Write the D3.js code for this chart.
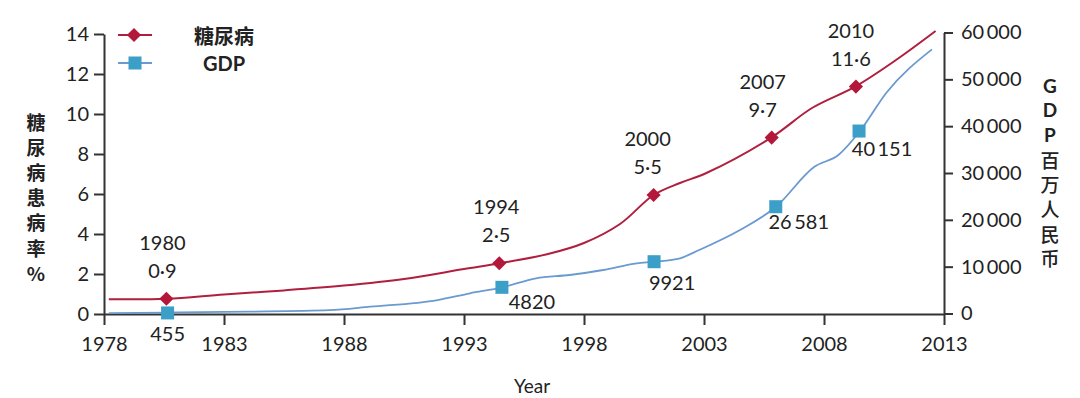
<!DOCTYPE html>
<html>
<head>
<meta charset="utf-8">
<script src="https://cdn.jsdelivr.net/npm/d3@7"></script>
<style>
  body { margin: 0; background: #fff; }
  text { font-family: Lato, "Noto Sans CJK SC", sans-serif; fill: #222; }
  .cjk { font-family: "Noto Sans CJK SC", sans-serif; }
</style>
</head>
<body>
<div class="canvas"></div>
<script>
// diabetes prevalence line (%)
const rateYears = [1978.2, 1980.6, 1983, 1985.5, 1988, 1990.5, 1993, 1994.5, 1996.5, 1998, 1999.5, 2000.9, 2002, 2003.1, 2005.8, 2007.5, 2009.3, 2011, 2012.65];
const rateVals  = [0.74, 0.76, 0.98, 1.18, 1.42, 1.75, 2.25, 2.54, 3.0, 3.55, 4.5, 5.95, 6.55, 7.05, 8.82, 10.3, 11.37, 12.7, 14.15];

// GDP line (million RMB)
const gdpYears = [1978.2, 1980.65, 1984, 1987.4, 1989.1, 1991.9, 1993.25, 1994.6, 1996, 1997.4, 1998.8, 2000.2, 2000.9, 2002, 2002.8, 2004.5, 2006, 2007.6, 2008.6, 2009.5, 2010.6, 2012.5];
const gdpVals  = [100, 200, 380, 700, 1450, 2880, 4310, 5590, 7520, 8220, 9290, 10720, 11060, 11790, 13560, 17830, 22800, 31340, 33840, 38960, 47140, 56400];

// highlighted points
const markYears = [1980, 1994, 2000, 2007, 2010];
const markRateX = [1980.6, 1994.47, 2000.9, 2005.82, 2009.33];
const markRateY = [0.76, 2.54, 5.95, 8.82, 11.37];
const markGdpX  = [1980.65, 1994.58, 2000.92, 2005.99, 2009.46];
const markGdpY  = [120, 5590, 11060, 22800, 38960];
const rateLabels = [0.9, 2.5, 5.5, 9.7, 11.6];
const gdpLabels  = [455, 4820, 9921, 26581, 40151];

const xTicks = [1978, 1983, 1988, 1993, 1998, 2003, 2008, 2013];
const leftTicks = [0, 2, 4, 6, 8, 10, 12, 14];
const rightTicks = [0, 10000, 20000, 30000, 40000, 50000, 60000];

const red = "#b01f3e", redMark = "#b3173a";
const blueLine = "#6a9ad0", blueMark = "#3b9fc8";

const W = 1080, H = 398;
const svg = d3.select(".canvas").append("svg")
    .attr("width", W).attr("height", H);

const x = d3.scaleLinear().domain([1978, 2013]).range([104, 944]);
const yL = d3.scaleLinear().domain([0, 14]).range([314, 34]);
const yR = d3.scaleLinear().domain([0, 60000]).range([313.5, 32.5]);

const thin = n => n >= 10000 ? d3.format(",")(n).replace(",", "\u2009") : String(n);
const dot = n => d3.format(".1f")(n).replace(".", "\u00b7");

// axes
function styleAxis(g) {
    g.selectAll("path, line").attr("stroke", "#333").attr("stroke-width", 2);
    g.selectAll("text").attr("font-size", 20).attr("fill", "#222")
        .attr("font-family", "Lato, sans-serif");
}

svg.append("g").attr("transform", "translate(0,314)")
    .call(d3.axisBottom(x).tickValues(xTicks).tickFormat(d3.format("d"))
        .tickSize(11).tickSizeOuter(0).tickPadding(12))
    .call(styleAxis);

svg.append("g").attr("transform", "translate(104,0)")
    .call(d3.axisLeft(yL).tickValues(leftTicks).tickSize(10).tickSizeOuter(0).tickPadding(5))
    .call(styleAxis);

svg.append("g").attr("transform", "translate(944,0)")
    .call(d3.axisRight(yR).tickValues(rightTicks).tickFormat(thin)
        .tickSize(9).tickSizeOuter(0).tickPadding(8))
    .call(styleAxis);

// axis titles
const leftTitle = ["糖", "尿", "病", "患", "病", "率", "%"];
svg.append("g").selectAll("text").data(leftTitle).join("text")
    .attr("class", "cjk")
    .attr("x", 36).attr("y", (d, i) => 121 + i * 25.2)
    .attr("text-anchor", "middle").attr("dominant-baseline", "central")
    .attr("font-size", 19).attr("font-weight", "bold").attr("fill", "#111")
    .text(d => d);

const rightTitle = ["G", "D", "P", "百", "万", "人", "民", "币"];
svg.append("g").selectAll("text").data(rightTitle).join("text")
    .attr("class", (d, i) => i < 3 ? null : "cjk")
    .attr("x", 1050).attr("y", (d, i) => 85 + i * 24.7)
    .attr("text-anchor", "middle").attr("dominant-baseline", "central")
    .attr("font-size", 19).attr("font-weight", (d, i) => i < 3 ? "bold" : "500")
    .attr("font-family", (d, i) => i < 3 ? "Liberation Sans, Arial, sans-serif" : null)
    .attr("fill", "#111")
    .text(d => d);

svg.append("text").attr("x", 532).attr("y", 385)
    .attr("text-anchor", "middle").attr("dominant-baseline", "central")
    .attr("font-size", 19).text("Year");

// lines
const rateLine = d3.line().x(d => x(d[0])).y(d => yL(d[1])).curve(d3.curveCatmullRom.alpha(0.5));
const gdpLine = d3.line().x(d => x(d[0])).y(d => yR(d[1])).curve(d3.curveMonotoneX);

svg.append("path").datum(gdpYears.map((d, i) => [d, gdpVals[i]]))
    .attr("d", gdpLine).attr("fill", "none").attr("stroke", blueLine).attr("stroke-width", 1.8);
svg.append("path").datum(rateYears.map((d, i) => [d, rateVals[i]]))
    .attr("d", rateLine).attr("fill", "none").attr("stroke", red).attr("stroke-width", 2);

// markers
const diamond = d3.symbol().type(d3.symbolSquare).size(100);
svg.append("g").selectAll("path").data(markRateX).join("path")
    .attr("d", diamond())
    .attr("transform", (d, i) => `translate(${x(d)},${yL(markRateY[i])}) rotate(45)`)
    .attr("fill", redMark);

svg.append("g").selectAll("rect").data(markGdpX).join("rect")
    .attr("x", d => x(d) - 6.5).attr("y", (d, i) => yR(markGdpY[i]) - 6.5)
    .attr("width", 13).attr("height", 13)
    .attr("fill", blueMark);

// point annotations
const ann = svg.append("g").attr("font-size", 20).attr("text-anchor", "middle");
const rateShift = [-4, -3, -6, -9, -5];
markRateX.forEach((d, i) => {
    const cx = x(d) + rateShift[i], cy = yL(markRateY[i]);
    ann.append("text").attr("x", cx).attr("y", cy - 57)
        .attr("dominant-baseline", "central").text(markYears[i]);
    ann.append("text").attr("x", cx).attr("y", cy - 29)
        .attr("dominant-baseline", "central").text(dot(rateLabels[i]));
});

const gdpShift = [[0, 20], [30, 14], [18, 20], [23, 14], [23, 17]];
markGdpX.forEach((d, i) => {
    ann.append("text")
        .attr("x", x(d) + gdpShift[i][0]).attr("y", yR(markGdpY[i]) + gdpShift[i][1])
        .attr("dominant-baseline", "central")
        .text(thin(gdpLabels[i]));
});

// legend
const lg = svg.append("g");
lg.append("line").attr("x1", 118).attr("x2", 152).attr("y1", 35).attr("y2", 35)
    .attr("stroke", red).attr("stroke-width", 2);
lg.append("path").attr("d", diamond()).attr("transform", "translate(134,35) rotate(45)")
    .attr("fill", redMark);
lg.append("line").attr("x1", 118).attr("x2", 152).attr("y1", 63).attr("y2", 63)
    .attr("stroke", blueLine).attr("stroke-width", 2);
lg.append("rect").attr("x", 128.5).attr("y", 56.5).attr("width", 13).attr("height", 13)
    .attr("fill", blueMark);
lg.append("text").attr("class", "cjk").attr("x", 224).attr("y", 35)
    .attr("text-anchor", "middle").attr("dominant-baseline", "central")
    .attr("font-size", 20).attr("font-weight", "bold").attr("fill", "#111").text("糖尿病");
lg.append("text").attr("x", 224).attr("y", 63)
    .attr("text-anchor", "middle").attr("dominant-baseline", "central")
    .attr("font-family", "Liberation Sans, Arial, sans-serif")
    .attr("font-size", 20).attr("font-weight", "bold").attr("fill", "#111").text("GDP");
</script>
</body>
</html>
